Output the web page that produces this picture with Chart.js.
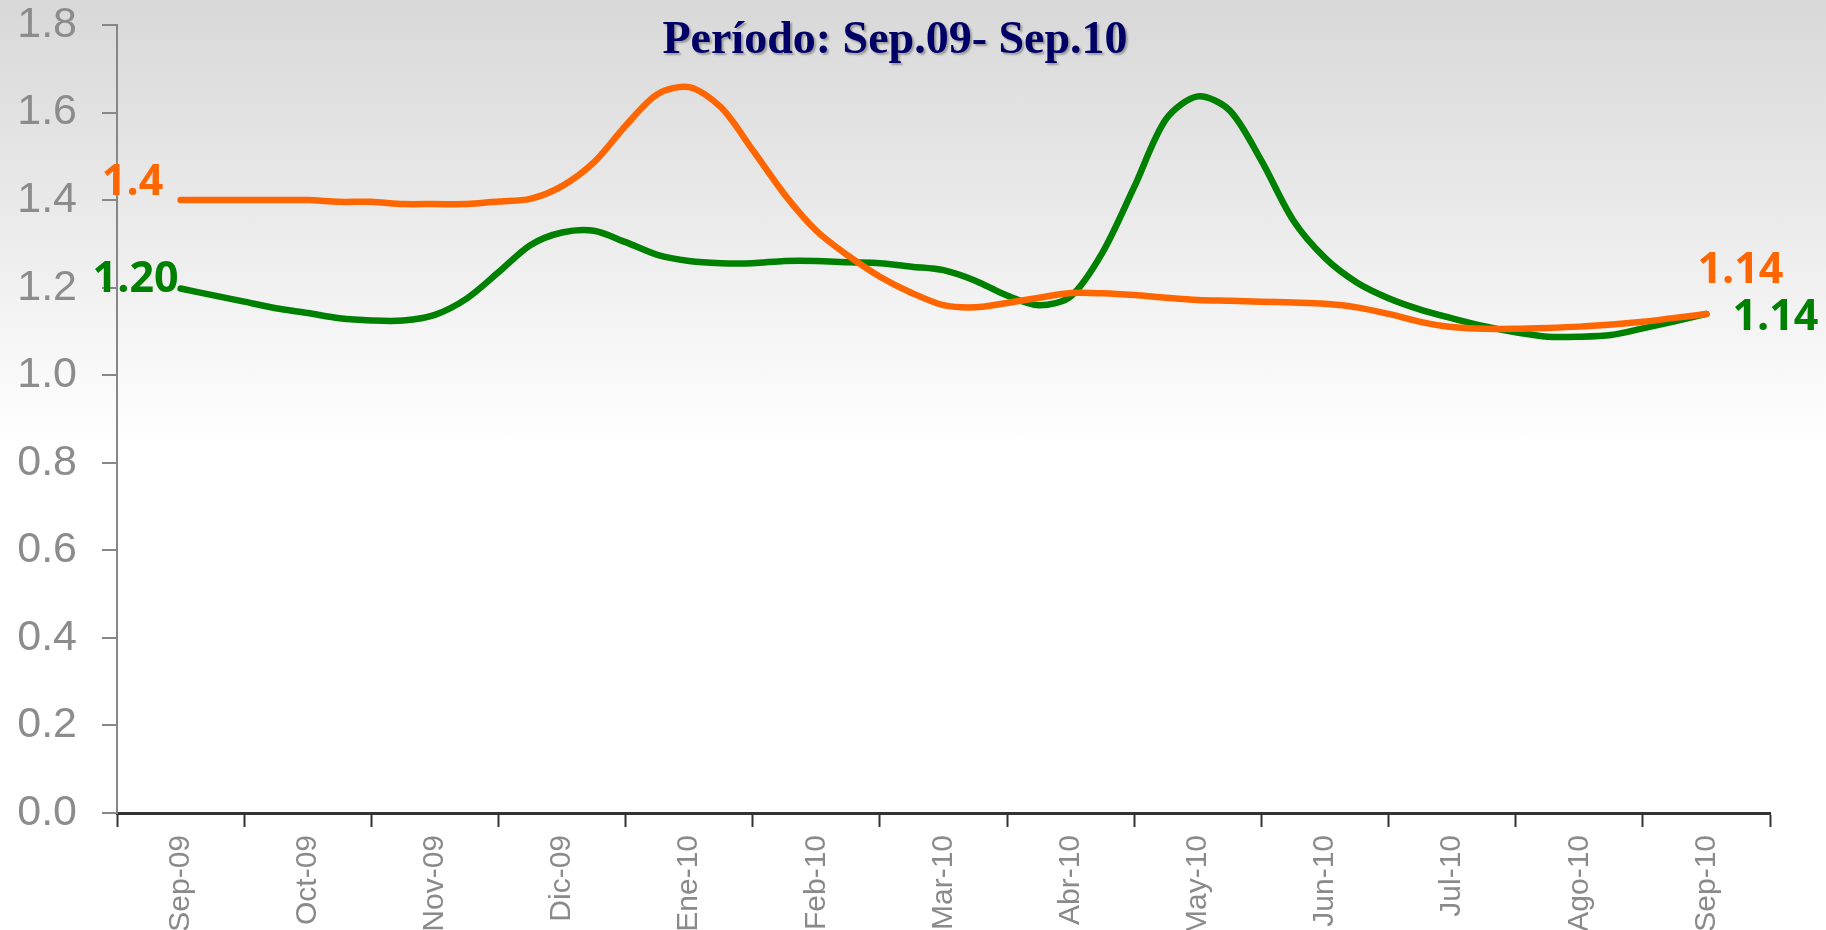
<!DOCTYPE html>
<html>
<head>
<meta charset="utf-8">
<script src="https://cdn.jsdelivr.net/npm/chart.js@4"></script>
<style>
  body { margin: 0; width: 1826px; height: 930px; overflow: hidden;
         background: linear-gradient(to bottom, #d8d8d8 0%, #e9e9e9 22%, #f5f5f5 36%, #ffffff 48%, #ffffff 100%); }
  #wrap { position: relative; width: 1826px; height: 930px; }
  #titulo { position: absolute; left: 0; width: 1790px; top: 15px; text-align: center;
            font: bold 46px "Liberation Serif", serif; line-height: 46px; color: #000066;
            text-shadow: 2px 2px 2px rgba(0,0,0,0.3); }
</style>
</head>
<body>
<div id="wrap">
  <canvas id="grafico" width="1826" height="930"></canvas>
  <div id="titulo">Período: Sep.09- Sep.10</div>
</div>
<script>
// meses (etiquetas del eje x)
const months = ['Sep-09','Oct-09','Nov-09','Dic-09','Ene-10','Feb-10','Mar-10','Abr-10','May-10','Jun-10','Jul-10','Ago-10','Sep-10'];

// posicion en meses (0 = Sep-09), cada cuarto de mes
const xMes = [0,0.25,0.5,0.75,1,1.25,1.5,1.75,2,2.25,2.5,2.75,3,3.25,3.5,3.75,4,4.25,4.5,4.75,
  5,5.25,5.5,5.75,6,6.25,6.5,6.75,7,7.25,7.5,7.75,8,8.25,8.5,8.75,9,9.25,9.5,9.75,
  10,10.25,10.5,10.75,11,11.25,11.5,11.75,12];

// serie naranja
const naranja = [1.40,1.40,1.40,1.40,1.40,1.396,1.396,1.391,1.391,1.391,1.397,1.403,1.432,1.486,1.570,1.642,
  1.658,1.612,1.514,1.413,1.330,1.273,1.225,1.188,1.160,1.155,1.165,1.177,1.188,1.187,1.183,1.177,
  1.172,1.170,1.168,1.166,1.163,1.155,1.140,1.122,1.110,1.106,1.106,1.108,1.111,1.116,1.122,1.131,1.140];

// serie verde
const verde = [1.198,1.183,1.168,1.153,1.142,1.130,1.125,1.125,1.138,1.175,1.235,1.297,1.326,1.330,1.304,1.275,
  1.261,1.256,1.256,1.261,1.261,1.258,1.256,1.248,1.240,1.216,1.182,1.160,1.180,1.280,1.430,1.585,
  1.637,1.605,1.490,1.354,1.268,1.212,1.176,1.150,1.130,1.112,1.098,1.088,1.088,1.092,1.107,1.123,1.140];

// etiquetas de inicio y fin
const etqNaranja = ['1.4', '1.14'];
const etqVerde = ['1.20', '1.14'];

// ticks del eje x: bordes de mes y centros
const xTicks = [-0.5,0,0.5,1,1.5,2,2.5,3,3.5,4,4.5,5,5.5,6,6.5,7,7.5,8,8.5,9,9.5,10,10.5,11,11.5,12,12.5];

function puntos(ys) {
  return ys.map(function(v, i) { return {x: xMes[i], y: v}; });
}

const etiquetasPlugin = {
  id: 'etiquetas',
  afterDatasetsDraw: function(chart) {
    const ctx = chart.ctx;
    ctx.save();
    ctx.font = 'bold 43px "Open Sans", sans-serif';
    ctx.textAlign = 'center';
    ctx.textBaseline = 'middle';
    chart.data.datasets.forEach(function(ds, i) {
      const pts = chart.getDatasetMeta(i).data;
      const a = pts[0], b = pts[pts.length - 1];
      ctx.fillStyle = ds.borderColor;
      ctx.fillText(ds.etq[0], a.x + ds.offIni[0], a.y + ds.offIni[1]);
      ctx.fillText(ds.etq[1], b.x + ds.offFin[0], b.y + ds.offFin[1]);
    });
    ctx.restore();
  }
};

new Chart(document.getElementById('grafico'), {
  type: 'line',
  data: {
    datasets: [
      { data: puntos(naranja), borderColor: '#ff6600', borderWidth: 6.5, tension: 0.3,
        pointRadius: 0, borderCapStyle: 'round', borderJoinStyle: 'round',
        etq: etqNaranja, offIni: [-48, -17], offFin: [34, -43] },
      { data: puntos(verde), borderColor: '#008000', borderWidth: 6.5, tension: 0.3,
        pointRadius: 0, borderCapStyle: 'round', borderJoinStyle: 'round',
        etq: etqVerde, offIni: [-45, -9], offFin: [69, 4] }
    ]
  },
  options: {
    responsive: false,
    animation: false,
    devicePixelRatio: 1,
    layout: { padding: { top: 25, right: 56, left: 0, bottom: 0 } },
    plugins: { legend: { display: false }, tooltip: { enabled: false } },
    scales: {
      x: {
        type: 'linear',
        min: -0.5,
        max: 12.5,
        afterBuildTicks: function(axis) {
          axis.ticks = xTicks.map(function(v) { return {value: v}; });
        },
        afterFit: function(s) { s.height = 117; },
        border: { color: '#333333', width: 3 },
        grid: {
          drawOnChartArea: false,
          tickLength: 14,
          tickWidth: 2,
          tickColor: function(c) { return Number.isInteger(c.tick.value) ? 'rgba(0,0,0,0)' : '#333333'; }
        },
        ticks: {
          autoSkip: false,
          maxRotation: 90,
          minRotation: 90,
          padding: 8,
          color: '#8a8a8a',
          font: { family: '"Liberation Sans", Arial, sans-serif', size: 30 },
          callback: function(v) { return Number.isInteger(v) ? months[v] : ''; }
        }
      },
      y: {
        min: 0,
        max: 1.8,
        afterFit: function(s) { s.width = 117; s.paddingTop = 0; s.paddingBottom = 0; },
        border: { color: '#878787', width: 2 },
        grid: { drawOnChartArea: false, tickLength: 15, color: '#878787', lineWidth: 2 },
        ticks: {
          stepSize: 0.2,
          padding: 25,
          color: '#8c8c8c',
          font: { family: '"Liberation Sans", Arial, sans-serif', size: 43, lineHeight: 1.1 },
          callback: function(v) { return v.toFixed(1); }
        }
      }
    }
  },
  plugins: [etiquetasPlugin]
});
</script>
</body>
</html>
